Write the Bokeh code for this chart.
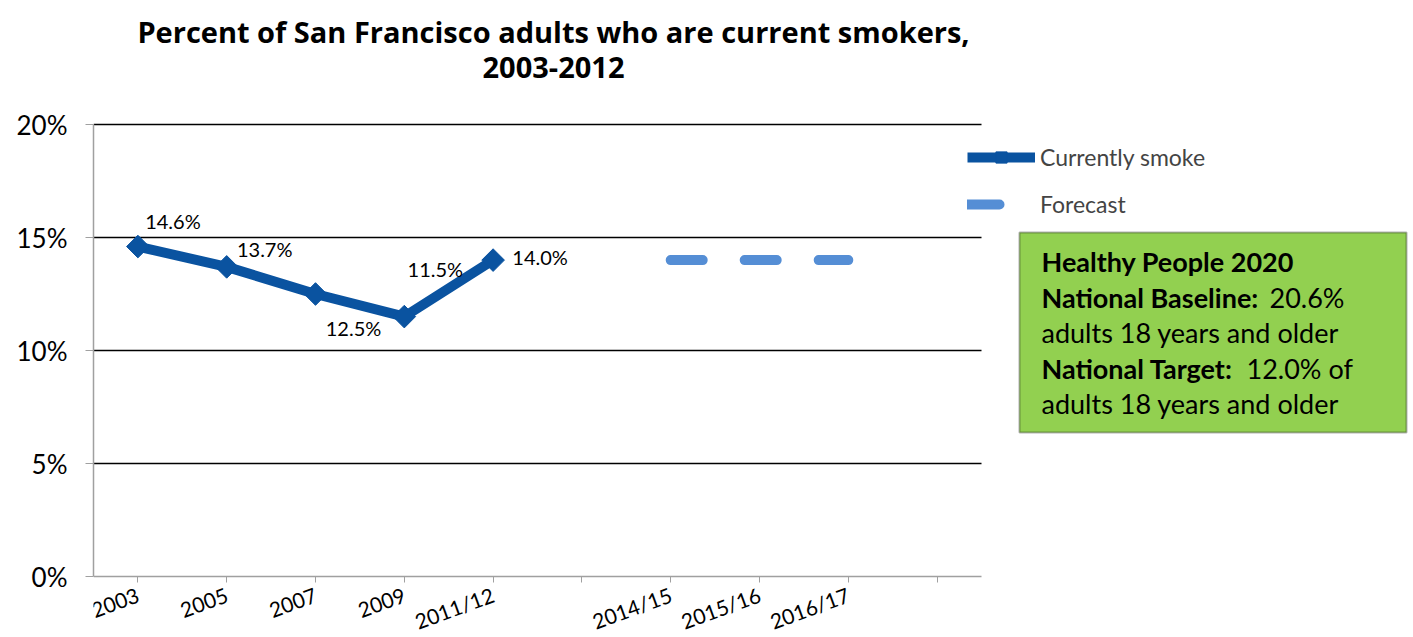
import numpy as np
from bokeh.plotting import figure
from bokeh.models import (Range1d, FixedTicker, PrintfTickFormatter,
                          Legend, LegendItem, Label, BoxAnnotation, ColumnDataSource)
from bokeh.embed import file_html
from bokeh.resources import INLINE
from bokeh.core.properties import value

# ---------------- data ----------------
categories = ["2003", "2005", "2007", "2009", "2011/12", "",
              "2014/15", "2015/16", "2016/17", ""]
smoke_years = ["2003", "2005", "2007", "2009", "2011/12"]
smoke_values = [14.6, 13.7, 12.5, 11.5, 14.0]
smoke_labels = ["14.6%", "13.7%", "12.5%", "11.5%", "14.0%"]
forecast_years = ["2014/15", "2015/16", "2016/17"]
forecast_values = [14.0, 14.0, 14.0]
y_ticks = [0, 5, 10, 15, 20]
grid_ticks = [5, 10, 15, 20]

title_lines = ["Percent of San Francisco adults who are current smokers,", "2003-2012"]
box_lines = [("Healthy People 2020", ""),
             ("National Baseline:", "20.6%"),
             ("", "adults 18 years and older"),
             ("National Target:", "12.0% of"),
             ("", "adults 18 years and older")]

# ---------------- layout / style ----------------
FONT = "Lato"
TFONT = "Open Sans"
DARK = "#0A53A0"
LIGHT = "#558ED5"
W, H = 1413, 637
PL, PB = 93, 576          # axis origin in canvas pixels
CAT_W = 88.8              # px per category
Y_PX = 452 / 20           # px per percent
YMAX = 20

x_start = -0.5
x_end = x_start + (W - PL) / CAT_W
y_start = -(H - PB) / Y_PX
y_end = PB / Y_PX


def X(px):  # layout helper: canvas px -> data x
    return x_start + (px - PL) / CAT_W


def Y(py):  # layout helper: canvas px -> data y
    return (PB - py) / Y_PX


label_dx = [35, 38, 38, 31, 47]      # px right
label_dy = [-26, -18, 34, -48, -3]   # px down

p = figure(width=W, height=H, output_backend="svg", toolbar_location=None,
           x_range=Range1d(x_start, x_end), y_range=Range1d(y_start, y_end),
           min_border_left=PL, min_border_top=0, min_border_right=0,
           min_border_bottom=0)
p.outline_line_color = None
p.background_fill_color = "white"
p.xgrid.visible = False
p.ygrid.visible = False

cat_pos = list(range(len(categories)))

# axes
p.yaxis.ticker = FixedTicker(ticks=y_ticks)
p.yaxis.bounds = (0, YMAX)
p.yaxis.formatter = PrintfTickFormatter(format="%d%%")
p.yaxis.axis_line_color = "#A0A0A0"
p.yaxis.axis_line_width = 1.5
p.yaxis.major_tick_line_color = "#A0A0A0"
p.yaxis.major_tick_out = 8
p.yaxis.major_tick_in = 0
p.yaxis.minor_tick_line_color = None
p.yaxis.major_label_text_font = FONT
p.yaxis.major_label_text_font_size = "26px"
p.yaxis.major_label_text_color = "black"
p.yaxis.major_label_standoff = 18

p.xaxis.fixed_location = 0
p.xaxis.ticker = FixedTicker(ticks=cat_pos)
p.xaxis.major_label_overrides = {i: c for i, c in enumerate(categories)}
p.xaxis.bounds = (x_start, len(categories) - 0.5)
p.xaxis.axis_line_color = "#A0A0A0"
p.xaxis.axis_line_width = 1.5
p.xaxis.major_tick_line_color = "#A0A0A0"
p.xaxis.major_tick_out = 6
p.xaxis.major_tick_in = 0
p.xaxis.minor_tick_line_color = None
p.xaxis.major_label_orientation = 0.35
p.xaxis.major_label_text_font = FONT
p.xaxis.major_label_text_font_size = "21px"
p.xaxis.major_label_text_color = "black"
p.xaxis.major_label_standoff = 11

# horizontal gridlines over the category span
p.segment(x0=[x_start] * len(grid_ticks), x1=[len(categories) - 0.5] * len(grid_ticks),
          y0=grid_ticks, y1=grid_ticks, line_color="black", line_width=1.5)

# series
sx = [categories.index(c) for c in smoke_years]
fx = [categories.index(c) for c in forecast_years]
src = ColumnDataSource(dict(x=sx, y=smoke_values, t=smoke_labels, dx=label_dx, dy=label_dy))
r_line = p.line("x", "y", source=src, line_color=DARK, line_width=10, line_join="round")
r_pts = p.scatter("x", "y", source=src, marker="square", angle=np.pi / 4, size=16,
                  fill_color=DARK, line_color=DARK)
fsrc = ColumnDataSource(dict(x=fx, y=forecast_values))
r_fc = p.line("x", "y", source=fsrc, line_color=LIGHT, line_width=10,
              line_dash="32 42", line_cap="round")

# data labels
p.text("x", "y", text="t", source=src, x_offset="dx", y_offset="dy",
       text_align="center", text_baseline="middle",
       text_font=value(FONT), text_font_size="20px", text_color="black")

# legend (location relative to frame bottom-left, px; frame bottom = canvas bottom)
legend = Legend(items=[LegendItem(label="Currently smoke", renderers=[r_line, r_pts]),
                       LegendItem(label="Forecast", renderers=[r_fc])],
                location=(967 - PL, H - 218), orientation="vertical",
                label_text_font=FONT, label_text_font_size="23px",
                glyph_width=68, glyph_height=28, spacing=19, label_standoff=5,
                padding=0, margin=0, border_line_color=None, background_fill_alpha=0)
p.add_layout(legend)

# title
for i, line in enumerate(title_lines):
    p.add_layout(Label(x=X(553), y=Y(31 + 36 * i), text=line,
                       text_align="center", text_baseline="middle",
                       text_font=TFONT, text_font_style="bold", text_font_size="29px",
                       text_color="black"))

# green box
p.add_layout(BoxAnnotation(left=X(1019), right=X(1406), bottom=Y(432), top=Y(232),
                           fill_color="#92D050", fill_alpha=1,
                           line_color="black", line_width=2))
normal_px = [None, 1269, 1041, 1246, 1041]
for i, (bold, normal) in enumerate(box_lines):
    yy = Y(261 + 35.5 * i)
    if bold:
        p.add_layout(Label(x=X(1041), y=yy, text=bold, text_align="left",
                           text_baseline="middle", text_font=FONT,
                           text_font_style="bold", text_font_size="27px",
                           text_color="black"))
    if normal:
        p.add_layout(Label(x=X(normal_px[i]), y=yy, text=normal, text_align="left",
                           text_baseline="middle", text_font=FONT,
                           text_font_size="27px", text_color="black"))

open("out.html", "w").write(file_html(p, INLINE))
